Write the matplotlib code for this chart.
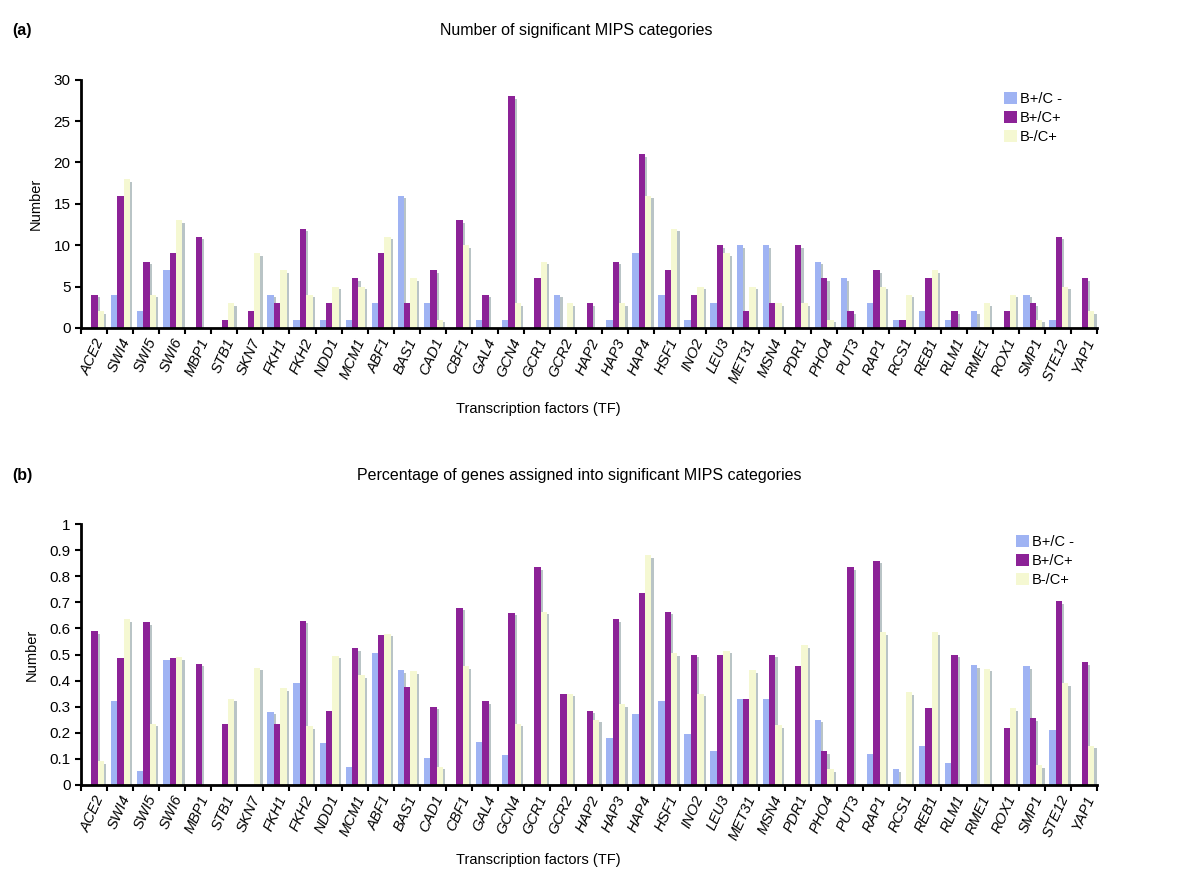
import numpy as np
import matplotlib.pyplot as plt

plt.rcParams['font.family'] = ['Liberation Sans', 'DejaVu Sans']

tfs = ["ACE2", "SWI4", "SWI5", "SWI6", "MBP1", "STB1", "SKN7", "FKH1", "FKH2",
       "NDD1", "MCM1", "ABF1", "BAS1", "CAD1", "CBF1", "GAL4", "GCN4", "GCR1",
       "GCR2", "HAP2", "HAP3", "HAP4", "HSF1", "INO2", "LEU3", "MET31", "MSN4",
       "PDR1", "PHO4", "PUT3", "RAP1", "RCS1", "REB1", "RLM1", "RME1", "ROX1",
       "SMP1", "STE12", "YAP1"]
series_names = ["B+/C -", "B+/C+", "B-/C+"]

# (a) number of significant MIPS categories
num_bc_minus = [0, 4, 2, 7, 0, 0, 0, 4, 1, 1, 1, 3, 16, 3, 0, 1, 1, 0, 4, 0,
                1, 9, 4, 1, 3, 10, 10, 0, 8, 6, 3, 1, 2, 1, 2, 0, 4, 1, 0]
num_bc_plus = [4, 16, 8, 9, 11, 1, 2, 3, 12, 3, 6, 9, 3, 7, 13, 4, 28, 6, 0, 3,
               8, 21, 7, 4, 10, 2, 3, 10, 6, 2, 7, 1, 6, 2, 0, 2, 3, 11, 6]
num_b_minus_c = [2, 18, 4, 13, 0, 3, 9, 7, 4, 5, 5, 11, 6, 1, 10, 0, 3, 8, 3, 0,
                 3, 16, 12, 5, 9, 5, 3, 3, 1, 0, 5, 4, 7, 0, 3, 4, 1, 5, 2]

# (b) percentage of genes assigned into significant MIPS categories
pct_bc_minus = [0, 0.32, 0.055, 0.48, 0, 0, 0, 0.28, 0.39, 0.16, 0.07, 0.505,
                0.44, 0.105, 0, 0.165, 0.115, 0, 0, 0, 0.18, 0.27, 0.32, 0.195,
                0.13, 0.33, 0.33, 0, 0.25, 0, 0.12, 0.06, 0.15, 0.085, 0.46, 0,
                0.455, 0.21, 0]
pct_bc_plus = [0.59, 0.485, 0.625, 0.485, 0.465, 0.235, 0, 0.235, 0.63, 0.285,
               0.525, 0.575, 0.375, 0.30, 0.68, 0.32, 0.66, 0.835, 0.35, 0.285,
               0.635, 0.735, 0.665, 0.50, 0.50, 0.33, 0.50, 0.455, 0.13, 0.835,
               0.86, 0, 0.295, 0.50, 0, 0.22, 0.255, 0.705, 0.47]
pct_b_minus_c = [0.09, 0.635, 0.235, 0.49, 0, 0.33, 0.45, 0.37, 0.225, 0.495,
                 0.42, 0.58, 0.435, 0.07, 0.455, 0, 0.235, 0.665, 0.35, 0.25,
                 0.31, 0.88, 0.505, 0.35, 0.515, 0.44, 0.23, 0.535, 0.06, 0,
                 0.585, 0.355, 0.585, 0, 0.445, 0.295, 0.075, 0.39, 0.15]

colors = ["#9fb3f3", "#8c2297", "#f5f8d2"]
shadow = "#b9c4c6"


def draw_panel(ax, data, ymax, yticks, yticklabels, drop, xlab_y):
    x = np.arange(len(tfs))
    width = 0.245
    offsets = [0.275, 0.52, 0.765]
    for vals, off, col, name in zip(data, offsets, colors, series_names):
        vals = np.array(vals, dtype=float)
        ax.bar(x + off + 0.085, np.clip(vals - drop, 0, None), width,
               color=shadow, zorder=1, linewidth=0)
        ax.bar(x + off, vals, width, color=col, zorder=2, label=name,
               linewidth=0)
    ax.set_xlim(0, len(tfs))
    ax.set_ylim(0, ymax)
    ax.set_yticks(yticks)
    ax.set_yticklabels(yticklabels, fontsize=11)
    ax.set_xticks(np.arange(len(tfs) + 1))
    ax.set_xticklabels([])
    ax.set_xticks(x + 0.5, minor=True)
    ax.set_xticklabels(tfs, minor=True, rotation=66, ha='right', va='top',
                       rotation_mode='anchor', fontsize=10.5, style='italic')
    ax.tick_params(axis='x', which='minor', length=0, pad=6)
    ax.tick_params(axis='x', which='major', length=4, width=1.5, direction='out')
    ax.tick_params(axis='y', length=4, width=1.5, direction='out')
    for s in ['top', 'right']:
        ax.spines[s].set_visible(False)
    for s in ['left', 'bottom']:
        ax.spines[s].set_linewidth(2)
    ax.set_ylabel("Number", fontsize=10.5, labelpad=8)
    ax.set_xlabel("Transcription factors (TF)", fontsize=10.5)
    ax.xaxis.set_label_coords(0.45, xlab_y)


fig = plt.figure(figsize=(12, 8.96), dpi=100)
ax1 = fig.add_axes([0.0675, 0.634, 0.847, 0.277])
ax2 = fig.add_axes([0.0675, 0.124, 0.847, 0.291])

draw_panel(ax1, [num_bc_minus, num_bc_plus, num_b_minus_c], 30,
           [0, 5, 10, 15, 20, 25, 30], ["0", "5", "10", "15", "20", "25", "30"],
           0.3, -0.30)
draw_panel(ax2, [pct_bc_minus, pct_bc_plus, pct_b_minus_c], 1,
           np.arange(0, 1.01, 0.1),
           ["0", "0.1", "0.2", "0.3", "0.4", "0.5", "0.6", "0.7", "0.8", "0.9", "1"],
           0.01, -0.26)

leg_kw = dict(loc='upper right', frameon=False, fontsize=10.5, handlelength=0.9,
              handleheight=0.9, handletextpad=0.2, labelspacing=0.35)
ax1.legend(bbox_to_anchor=(0.978, 1.005), **leg_kw)
ax2.legend(bbox_to_anchor=(0.99, 1.01), **leg_kw)

fig.text(0.48, 0.966, "Number of significant MIPS categories", ha='center',
         va='center', fontsize=11.5)
fig.text(0.483, 0.469, "Percentage of genes assigned into significant MIPS categories",
         ha='center', va='center', fontsize=11.5)
fig.text(0.01, 0.966, "(a)", ha='left', va='center', fontsize=11.5, weight='bold')
fig.text(0.01, 0.469, "(b)", ha='left', va='center', fontsize=11.5, weight='bold')

plt.savefig("out.png", dpi=100)
